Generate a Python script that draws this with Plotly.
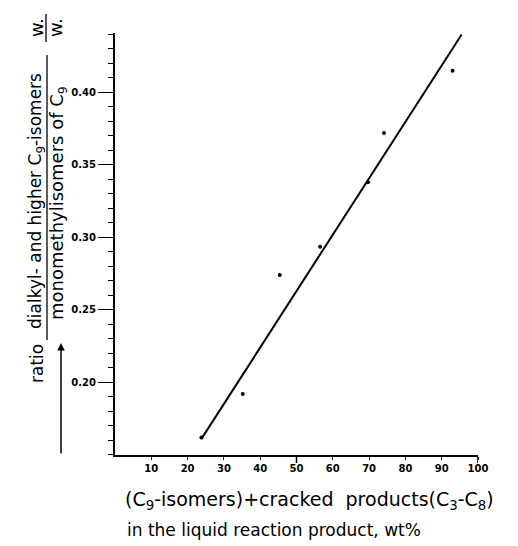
import plotly.graph_objects as go

# ---- data ----
POINT_X = [23.8, 35.2, 45.4, 56.5, 69.7, 74.1, 93.0]
POINT_Y = [0.162, 0.192, 0.274, 0.2935, 0.338, 0.372, 0.415]
LINE_X = [23.8, 95.5]
LINE_Y = [0.161, 0.440]

X_TICKS = [10, 20, 30, 40, 50, 60, 70, 80, 90, 100]
X_LONG_TICKS = [50, 100]
Y_TICKS = [0.20, 0.25, 0.30, 0.35, 0.40]
Y_TICK_TEXT = ["0.20", "0.25", "0.30", "0.35", "0.40"]

X_RANGE = [0, 100]
Y_RANGE = [0.1499, 0.441]

FONT = "DejaVu Sans"

fig = go.Figure()
fig.add_trace(go.Scatter(x=LINE_X, y=LINE_Y, mode="lines",
                         line=dict(color="black", width=2), showlegend=False,
                         hoverinfo="skip"))
fig.add_trace(go.Scatter(x=POINT_X, y=POINT_Y, mode="markers",
                         marker=dict(color="black", size=4), showlegend=False))

fig.update_layout(
    width=518, height=546,
    margin=dict(l=115, r=40, t=33, b=91),
    paper_bgcolor="white", plot_bgcolor="white",
    font=dict(family=FONT, color="black"),
    xaxis=dict(range=X_RANGE, showgrid=False, zeroline=False,
               showline=True, linecolor="black", linewidth=1.5,
               tickvals=X_TICKS, ticks="outside", ticklen=3, tickwidth=1.2,
               tickcolor="black",
               tickfont=dict(family=FONT, size=10, weight="bold")),
    yaxis=dict(range=Y_RANGE, showgrid=False, zeroline=False,
               showline=True, linecolor="black", linewidth=2,
               tickvals=Y_TICKS, ticktext=Y_TICK_TEXT,
               ticks="outside", ticklen=15, tickwidth=1.2, tickcolor="black",
               tickfont=dict(family=FONT, size=10, weight="bold"),
               minor=dict(dtick=0.01, tick0=0.0, ticks="outside", ticklen=5,
                          tickwidth=1, tickcolor="black")),
)

# longer ticks at 50 and 100
for v in X_LONG_TICKS:
    fig.add_shape(type="line", xref="x", yref="paper", x0=v, x1=v,
                  y0=0, y1=-0.019, line=dict(color="black", width=1.5))

# helpers: pixel -> paper
L, T, PW, PH = 115, 33, 363, 422
def px(x):
    return (x - L) / PW
def py(y):
    return (T + PH - y) / PH

ann = []
# y-axis title (rotated fraction)
ann.append(dict(x=px(36), y=py(201), xref="paper", yref="paper",
                text="dialkyl- and higher C<sub>9</sub>-isomers",
                textangle=-90, showarrow=False, font=dict(size=17),
                xanchor="center", yanchor="middle"))
ann.append(dict(x=px(58), y=py(203), xref="paper", yref="paper",
                text="monomethylisomers of C<sub>9</sub>",
                textangle=-90, showarrow=False, font=dict(size=18),
                xanchor="center", yanchor="middle"))
ann.append(dict(x=px(37), y=py(364), xref="paper", yref="paper",
                text="ratio", textangle=-90, showarrow=False,
                font=dict(size=17), xanchor="center", yanchor="middle"))
ann.append(dict(x=px(36), y=py(28), xref="paper", yref="paper",
                text="w.", textangle=-90, showarrow=False,
                font=dict(size=18), xanchor="center", yanchor="middle"))
ann.append(dict(x=px(55), y=py(28), xref="paper", yref="paper",
                text="w.", textangle=-90, showarrow=False,
                font=dict(size=18), xanchor="center", yanchor="middle"))
# arrow
ann.append(dict(x=px(61), y=py(343), xref="paper", yref="paper",
                ax=0, ay=112, axref="pixel", ayref="pixel", text="",
                showarrow=True, arrowhead=2, arrowsize=1, arrowwidth=1.5,
                arrowcolor="black"))
# x-axis title lines
ann.append(dict(x=px(123), y=py(500), xref="paper", yref="paper",
                text="(C<sub>9</sub>-isomers)+cracked  products(C<sub>3</sub>-C<sub>8</sub>)",
                showarrow=False, font=dict(size=19),
                xanchor="left", yanchor="middle"))
ann.append(dict(x=px(125), y=py(530), xref="paper", yref="paper",
                text="in the liquid reaction product, wt%",
                showarrow=False, font=dict(size=17),
                xanchor="left", yanchor="middle"))
fig.update_layout(annotations=ann)

# fraction bars
fig.add_shape(type="line", xref="paper", yref="paper",
              x0=px(47), x1=px(47), y0=py(340), y1=py(55),
              line=dict(color="black", width=1.3))
fig.add_shape(type="line", xref="paper", yref="paper",
              x0=px(46), x1=px(46), y0=py(42), y1=py(14),
              line=dict(color="black", width=1.3))

fig.write_html("out.html")
